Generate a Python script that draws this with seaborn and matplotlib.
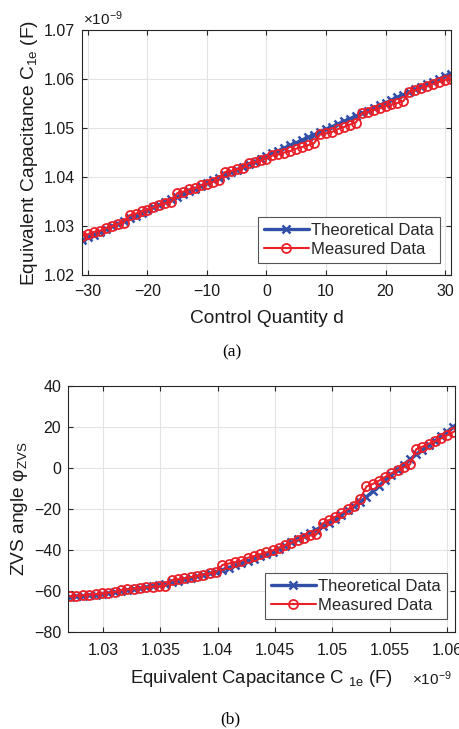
import matplotlib
matplotlib.use("Agg")
import matplotlib.pyplot as plt
import seaborn as sns
from matplotlib.ticker import FuncFormatter, MultipleLocator

# ---------------- data (capacitance in units of 1e-9 F) ----------------
d_values = list(range(-31, 32))

C_theory = [1.02712, 1.02768, 1.02823, 1.02879, 1.02935, 1.02990, 1.03046, 1.03101,
            1.03157, 1.03212, 1.03268, 1.03323, 1.03378, 1.03434, 1.03489, 1.03544,
            1.03600, 1.03655, 1.03710, 1.03765, 1.03820, 1.03876, 1.03931, 1.03986,
            1.04041, 1.04096, 1.04151, 1.04206, 1.04261, 1.04315, 1.04370, 1.04425,
            1.04480, 1.04535, 1.04589, 1.04644, 1.04699, 1.04753, 1.04808, 1.04862,
            1.04917, 1.04972, 1.05026, 1.05080, 1.05135, 1.05189, 1.05244, 1.05298,
            1.05352, 1.05407, 1.05461, 1.05515, 1.05569, 1.05623, 1.05678, 1.05732,
            1.05786, 1.05840, 1.05894, 1.05948, 1.06002, 1.06056, 1.06109]

C_measured = [1.0280, 1.0283, 1.0288, 1.0290, 1.0296, 1.0299, 1.0304, 1.0307,
              1.0322, 1.0325, 1.0330, 1.0333, 1.0338, 1.0342, 1.0347, 1.0349,
              1.0367, 1.0370, 1.0375, 1.0377, 1.0383, 1.0386, 1.0390, 1.0394,
              1.0410, 1.0412, 1.0416, 1.0418, 1.0428, 1.0430, 1.0434, 1.0437,
              1.0444, 1.0446, 1.0450, 1.0453, 1.0458, 1.0461, 1.0465, 1.0469,
              1.0487, 1.0489, 1.0492, 1.0498, 1.0502, 1.0507, 1.0511, 1.0530,
              1.0532, 1.0537, 1.0540, 1.0545, 1.0548, 1.0551, 1.0555, 1.0574,
              1.0577, 1.0582, 1.0585, 1.0590, 1.0594, 1.0598, 1.0601]

phi_theory = [-62.9, -62.6, -62.4, -62.1, -61.8, -61.6, -61.1, -60.6,
              -60.1, -59.6, -59.1, -58.6, -58.1, -57.6, -57.1, -56.4,
              -55.7, -55.0, -54.3, -53.6, -52.9, -52.1, -51.4, -50.7,
              -49.7, -48.6, -47.5, -46.4, -45.3, -44.2, -43.1, -42.0,
              -40.9, -39.5, -37.9, -36.3, -34.7, -33.2, -31.6, -30.0,
              -28.4, -26.8, -25.0, -22.9, -20.7, -18.6, -16.5, -14.1,
              -11.4, -8.7, -5.9, -3.3, -0.8, 1.7, 4.2, 6.7,
              8.9, 11.0, 13.2, 15.4, 17.8, 20.2, 22.3]

phi_measured = [-62.6, -62.3, -62.1, -61.8, -61.5, -61.2, -60.9, -60.5,
                -59.5, -59.2, -58.9, -58.5, -58.2, -57.9, -57.7, -57.5,
                -54.7, -54.3, -53.8, -53.3, -52.7, -52.0, -51.4, -50.8,
                -47.3, -46.6, -45.9, -45.3, -43.8, -43.0, -42.1, -41.2,
                -40.2, -38.8, -37.7, -36.5, -35.2, -34.0, -32.9, -32.4,
                -27.0, -25.4, -23.8, -22.0, -20.2, -18.4, -15.0, -9.0,
                -7.8, -6.2, -4.4, -2.6, -1.2, 0.3, 1.8, 9.2,
                10.4, 11.8, 13.0, 14.4, 16.0, 17.6, 19.3]

labels = ["Theoretical Data", "Measured Data"]

# ---------------- style ----------------
sns.set_theme(style="whitegrid")
plt.rcParams.update({
    "font.family": ["Liberation Sans", "DejaVu Sans"],
    "mathtext.fontset": "custom",
    "mathtext.rm": "Liberation Sans",
    "mathtext.it": "Liberation Sans:italic",
    "mathtext.bf": "Liberation Sans:bold",
    "axes.edgecolor": "#262626",
    "axes.linewidth": 0.8,
    "axes.facecolor": "white",
    "grid.color": "#e3e3e3",
    "grid.linewidth": 0.8,
    "xtick.direction": "in",
    "ytick.direction": "in",
    "xtick.top": True,
    "xtick.bottom": True,
    "ytick.left": True,
    "ytick.right": True,
    "xtick.major.size": 3.5,
    "ytick.major.size": 3.5,
    "xtick.major.width": 0.8,
    "ytick.major.width": 0.8,
    "xtick.color": "#262626",
    "ytick.color": "#262626",
    "xtick.labelcolor": "#1a1a1a",
    "ytick.labelcolor": "#1a1a1a",
    "xtick.labelsize": 11.5,
    "ytick.labelsize": 11.5,
})

BLUE = "#3350A8"
RED = "#EC2028"
LABEL_FS = 13.8

W, H = 460, 729
fig = plt.figure(figsize=(W / 100, H / 100), dpi=100)


def ax_rect(l, r, t, b):
    return [l / W, 1 - b / H, (r - l) / W, (b - t) / H]


ax1 = fig.add_axes(ax_rect(82, 451, 30, 275))
ax2 = fig.add_axes(ax_rect(68, 455, 386, 632))

theory_kw = dict(color=BLUE, marker="x", markersize=5.5, markeredgewidth=1.8,
                 markeredgecolor=BLUE, linewidth=2.4)
meas_kw = dict(color=RED, marker="o", markersize=6.5, markerfacecolor="none",
               markeredgecolor=RED, markeredgewidth=1.3, linewidth=1.5)

# ---- (a) ----
sns.lineplot(x=d_values, y=C_theory, ax=ax1, label=labels[0], **theory_kw)
sns.lineplot(x=d_values, y=C_measured, ax=ax1, label=labels[1], **meas_kw)
ax1.set_xlim(-31, 31)
ax1.set_ylim(1.02, 1.07)
ax1.xaxis.set_major_locator(MultipleLocator(10))
ax1.yaxis.set_major_locator(MultipleLocator(0.01))
ax1.yaxis.set_major_formatter(FuncFormatter(lambda v, p: f"{v:.2f}"))
ax1.set_xlabel("Control Quantity d", fontsize=LABEL_FS, labelpad=8, color="#1a1a1a")
ax1.set_ylabel(r"Equivalent Capacitance C$_{\mathregular{1e}}$ (F)", fontsize=LABEL_FS,
               labelpad=3, color="#1a1a1a")
ax1.grid(True)

# ---- (b) ----
sns.lineplot(x=C_theory, y=phi_theory, ax=ax2, label=labels[0], **theory_kw)
sns.lineplot(x=C_theory, y=phi_measured, ax=ax2, label=labels[1], **meas_kw)
ax2.set_xlim(1.02695, 1.0607)
ax2.set_ylim(-80, 40)
ax2.xaxis.set_major_locator(MultipleLocator(0.005))
ax2.yaxis.set_major_locator(MultipleLocator(20))
ax2.xaxis.set_major_formatter(FuncFormatter(lambda v, p: f"{round(v, 4):g}"))
ax2.set_xlabel(r"Equivalent Capacitance C $_{\mathregular{1e}}$ (F)", fontsize=13.3,
               labelpad=7, color="#1a1a1a")
ax2.set_ylabel(r"ZVS angle φ$_{\mathregular{ZVS}}$", fontsize=LABEL_FS, labelpad=3,
               color="#1a1a1a")
ax2.grid(True)

for ax, anchor in ((ax1, (0.970, 0.049)), (ax2, (0.979, 0.053))):
    for sp in ax.spines.values():
        sp.set_visible(True)
        sp.set_color("#262626")
        sp.set_linewidth(0.8)
    ax.tick_params(axis="y", pad=5)
    leg = ax.legend(loc="lower right", bbox_to_anchor=anchor, borderaxespad=0,
                    fontsize=12, frameon=True, fancybox=False, framealpha=1,
                    edgecolor="#555555", handlelength=2.7, handletextpad=0.15,
                    borderpad=0.35, labelspacing=0.25)
    leg.get_frame().set_linewidth(0.8)
ax1.tick_params(axis="x", pad=6.5)
ax2.tick_params(axis="x", pad=8)

# exponent labels
fig.text(83 / W, 1 - 25 / H, r"×10$^{-9}$", fontsize=11, color="#1a1a1a",
         va="baseline", ha="left")
fig.text(412 / W, 1 - 685 / H, r"×10$^{-9}$", fontsize=11, color="#1a1a1a",
         va="baseline", ha="left")

# captions
fig.text(232 / W, 1 - 352 / H, "(a)", fontsize=12.5, family="Liberation Serif",
         ha="center", va="center", color="black")
fig.text(230 / W, 1 - 719 / H, "(b)", fontsize=12.5, family="Liberation Serif",
         ha="center", va="center", color="black")

fig.savefig("out.png", dpi=100, facecolor="white")
